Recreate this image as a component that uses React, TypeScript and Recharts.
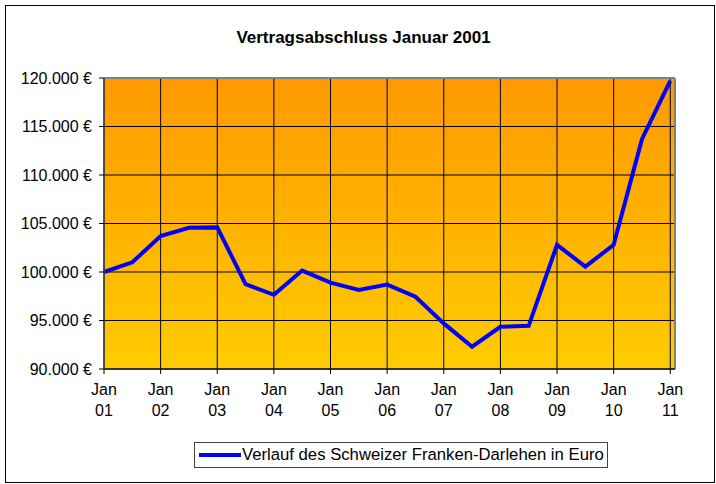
import React from 'react';
import {
  LineChart,
  Line,
  XAxis,
  YAxis,
  CartesianGrid,
  ReferenceLine,
  Legend,
} from 'recharts';

// months since Jan 2001
const months = [0, 6, 12, 18, 24, 30, 36, 42, 48, 54, 60, 66, 72, 78, 84, 90, 96, 102, 108, 114, 120];
const darlehen = [
  100000, 101000, 103700, 104550, 104600, 98750, 97650, 100150, 98900, 98150, 98700,
  97450, 94700, 92300, 94350, 94450, 102800, 100550, 102800, 113700, 119700,
];
const xTicks = [0, 12, 24, 36, 48, 60, 72, 84, 96, 108, 120];
const xTickLabels = ['01', '02', '03', '04', '05', '06', '07', '08', '09', '10', '11'];
const yTicks = [90000, 95000, 100000, 105000, 110000, 115000, 120000];
const seriesName = 'Verlauf des Schweizer Franken-Darlehen in Euro';
const title = 'Vertragsabschluss Januar 2001';

const FONT = '"Liberation Sans", Arial, sans-serif';

const chartData = months.map((m, i) => ({ m, value: darlehen[i] }));

const formatEuro = (v: number) => `${Math.floor(v / 1000)}.000 €`;

const XTick = (props: any) => {
  const { x, y, payload } = props;
  const idx = xTicks.indexOf(payload.value);
  return (
    <g>
      <text x={x} y={y + 19} textAnchor="middle" fontSize={16} fill="#000" fontFamily={FONT}>
        Jan
      </text>
      <text x={x} y={y + 40} textAnchor="middle" fontSize={16} fill="#000" fontFamily={FONT}>
        {xTickLabels[idx]}
      </text>
    </g>
  );
};

const LegendBox = () => (
  <div
    style={{
      border: '1px solid #444',
      height: 26,
      boxSizing: 'border-box',
      display: 'flex',
      alignItems: 'center',
      paddingLeft: 4,
      fontFamily: FONT,
      fontSize: 16.7,
      color: '#000',
      whiteSpace: 'nowrap',
    }}
  >
    <span style={{ display: 'inline-block', width: 42, height: 4, background: '#0000ff', marginRight: 1 }} />
    {seriesName}
  </div>
);

export default function App() {
  return (
    <div style={{ position: 'absolute', left: 0, top: 0, width: 716, height: 484, background: '#fff' }}>
      <div
        style={{
          position: 'absolute',
          left: 5,
          top: 5,
          width: 710,
          height: 478,
          border: '1px solid #000',
          boxSizing: 'border-box',
        }}
      />
      <div
        style={{
          position: 'absolute',
          left: 0,
          top: 28,
          width: 727,
          textAlign: 'center',
          fontFamily: FONT,
          fontWeight: 'bold',
          fontSize: 17,
          color: '#000',
        }}
      >
        {title}
      </div>
      <div style={{ position: 'absolute', left: 0, top: 0 }}>
        <LineChart
          width={716}
          height={484}
          data={chartData}
          margin={{ top: 78, right: 41, bottom: 65, left: 10 }}
        >
          <defs>
            <linearGradient id="plotBg" x1="0" y1="0" x2="0" y2="1">
              <stop offset="0%" stopColor="#ff9900" />
              <stop offset="100%" stopColor="#ffcc00" />
            </linearGradient>
          </defs>
          <CartesianGrid stroke="#000" strokeWidth={1} fill="url(#plotBg)" fillOpacity={1} />
          <XAxis
            dataKey="m"
            type="number"
            domain={[0, 121]}
            ticks={xTicks}
            interval={0}
            height={50}
            tickSize={5}
            tick={<XTick />}
            axisLine={{ stroke: '#222', strokeWidth: 1.5 }}
            tickLine={{ stroke: '#000' }}
          />
          <YAxis
            type="number"
            domain={[90000, 120000]}
            ticks={yTicks}
            interval={0}
            width={94}
            tickSize={5}
            tickMargin={7}
            tickFormatter={formatEuro}
            tick={{ fontSize: 16, fill: '#000', fontFamily: FONT }}
            axisLine={{ stroke: '#444', strokeWidth: 1.5 }}
            tickLine={{ stroke: '#000' }}
          />
          <ReferenceLine y={120000} stroke="#808080" strokeWidth={2} />
          <ReferenceLine x={121} stroke="#808080" strokeWidth={2} />
          <Line
            type="linear"
            dataKey="value"
            name={seriesName}
            stroke="#0000ff"
            strokeWidth={4}
            dot={false}
            activeDot={false}
            isAnimationActive={false}
          />
          <Legend
            layout="vertical"
            align="center"
            verticalAlign="middle"
            content={<LegendBox />}
            wrapperStyle={{ position: 'absolute', left: 194, top: 442, width: 414, height: 26 }}
          />
        </LineChart>
      </div>
    </div>
  );
}
